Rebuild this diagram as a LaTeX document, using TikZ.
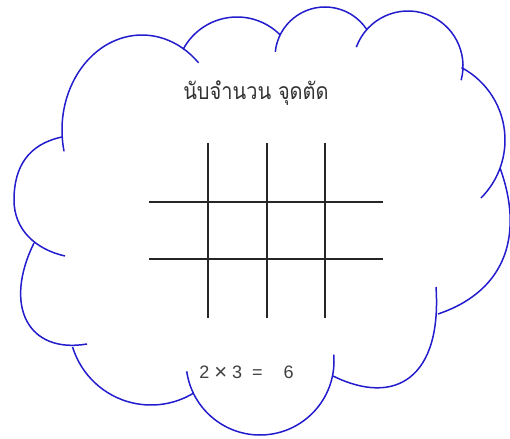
\documentclass[tikz,border=0pt]{standalone}
\usepackage{fontspec}
\usepackage{xcolor}
\usepackage{tikz}
\newfontfamily\thaifont[Script=Thai, FakeStretch=0.87]{Loma}
\newfontfamily\eqfont{Liberation Sans}
\definecolor{cloudblue}{RGB}{35,28,205}

\begin{document}
\begin{tikzpicture}[
x=1pt, y=-1pt,
cloudline/.style={draw=cloudblue, line width=1.5pt},
gridline/.style={draw=black!85, line width=1.2pt},
title/.style={font=\thaifont\fontsize{23}{28}\selectfont, text=black!80, anchor=base, inner sep=0pt},
eqn/.style={font=\eqfont\fontsize{18}{22}\selectfont, text=black!75, anchor=base, inner sep=0pt}
]
\useasboundingbox (0,0) rectangle (510,438);

% cloud outline, one puff at a time, clockwise from the upper left
\draw[cloudline] (142,130) ++(167:80 and 95) arc[start angle=167, end angle=315, x radius=80, y radius=95];
\draw[cloudline] (237,78) ++(208:61) arc[start angle=208, end angle=315, radius=61];
\draw[cloudline] (325,57) ++(186:50) arc[start angle=186, end angle=327, radius=50];
\draw[cloudline] (408,66) ++(200:55) arc[start angle=200, end angle=375, radius=55];
\draw[cloudline] (423,140) ++(298:82) arc[start angle=298, end angle=405, radius=82];
\draw[cloudline] (500,168) .. controls (523,231) and (509,290) .. (438,314);
\draw[cloudline] (436,287) .. controls (442,377) and (396,407) .. (333,376);
\draw[cloudline] (260,361) ++(-5:74) arc[start angle=-5, end angle=172, radius=74];
\draw[cloudline] (151,323) ++(163:82) arc[start angle=163, end angle=59, radius=82];
\draw[cloudline] (34,243) .. controls (3,306) and (28,354) .. (87,344);
\draw[cloudline] (62,137) .. controls (29,144) and (14,166) .. (14,200)
  .. controls (14,230) and (36,249.5) .. (65,256);

\node[title] (heading) at (256,100) {นับจำนวน จุดตัด};

% the lines that cross
\draw[gridline] (208,143) -- (208,318);
\draw[gridline] (267,143) -- (267,318);
\draw[gridline] (325,143) -- (325,318);
\draw[gridline] (149,202) -- (383,202);
\draw[gridline] (149,259) -- (383,259);

\node[eqn] (product) at (246.5,378) {2 \raisebox{-1pt}{\fontsize{22}{22}\selectfont ×} 3\hspace{5pt} =\hspace{16pt} 6};
\end{tikzpicture}
\end{document}
